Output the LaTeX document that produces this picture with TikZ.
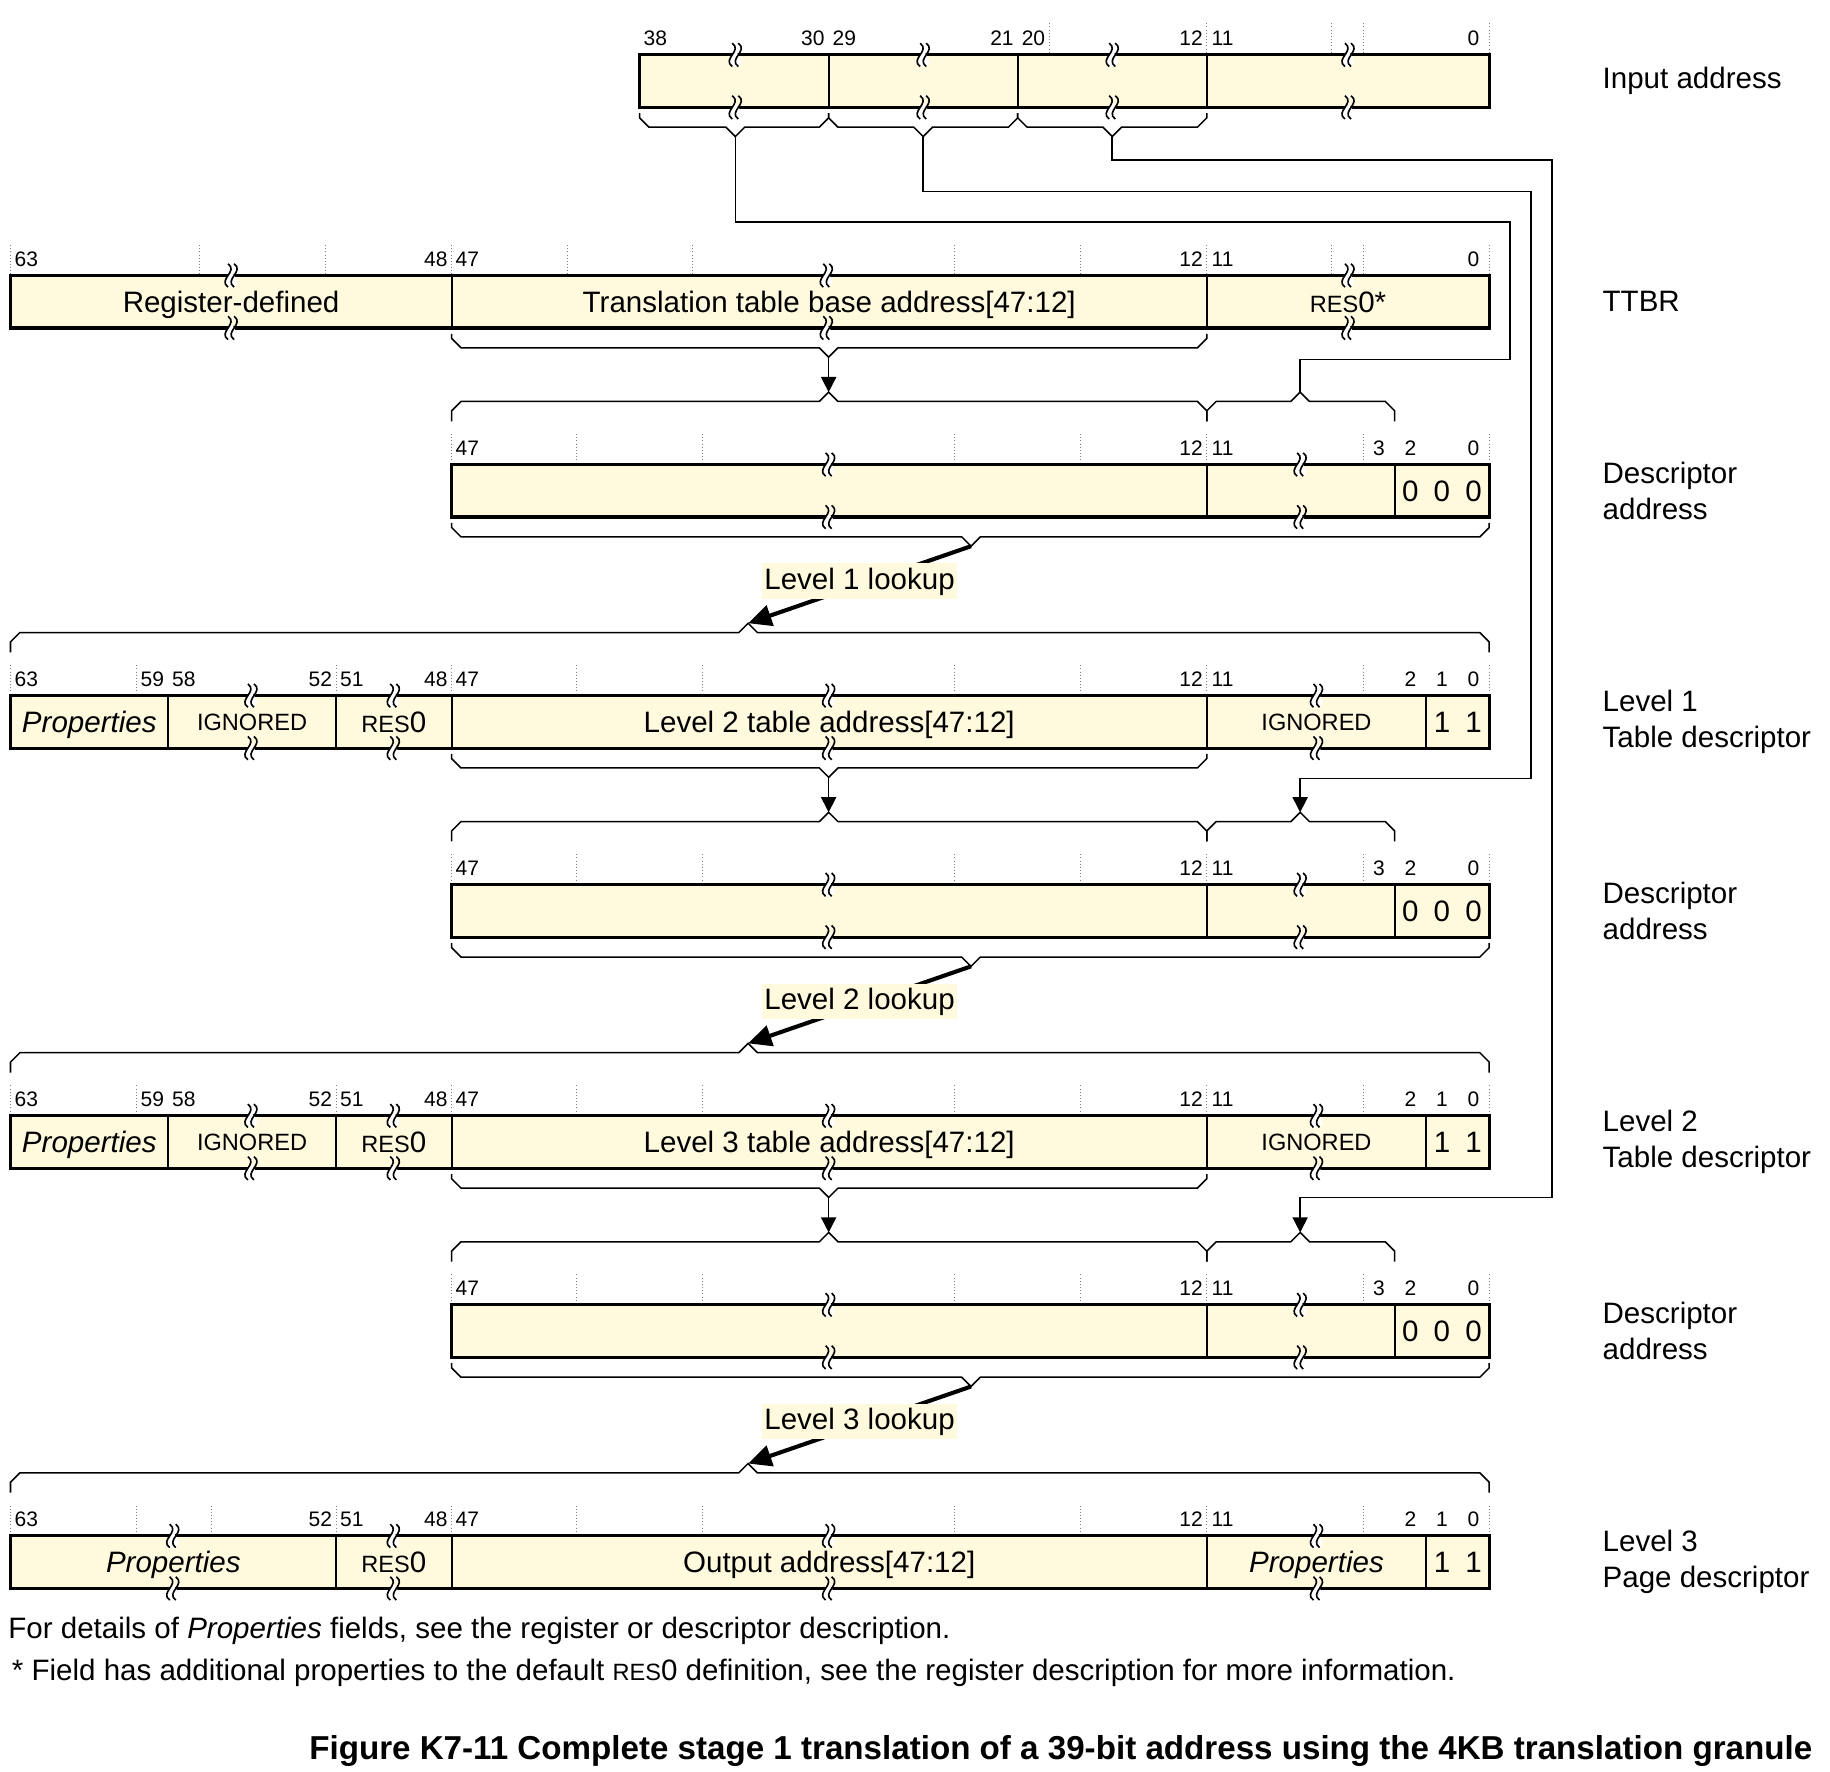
\documentclass[tikz,border=0pt]{standalone}
\usepackage{fontspec}
\setmainfont{Liberation Sans}
\usetikzlibrary{arrows.meta}

\definecolor{cream}{RGB}{255,250,221}

\newcommand{\bigtext}{\fontsize{25.3}{31}\selectfont}
\newcommand{\captext}{\fontsize{20.2}{24}\selectfont}
\newcommand{\bittext}{\fontsize{18}{21}\selectfont}
\newcommand{\resz}{{\captext RES}0}

% one field of a register: name, left x, right x, top y, text
\newcommand{\field}[6][]{%
  \node[field, minimum width={(#4-#3)*1pt}, #1] (#2) at (#3,#5) {#6};}
% bracket under a bar: name, x1, x2, point x, bottom y
\newcommand{\bracedn}[5]{%
  \draw[grp] ({#2},{#5+5}) -- ({#2},{#5+9}) -- ({#2+8},{#5+17}) -- ({#4-8},{#5+17})
    -- ({#4},{#5+25}) -- ({#4+8},{#5+17}) -- ({#3-8},{#5+17}) -- ({#3},{#5+9}) -- ({#3},{#5+5});
  \coordinate (#1) at ({#4},{#5+25});}
% bracket over a bar: name, x1, x2, peak x, top y
\newcommand{\braceup}[5]{%
  \draw[grp] ({#2},{#5-37}) -- ({#2},{#5-46}) -- ({#2+8},{#5-54}) -- ({#4-8},{#5-54})
    -- ({#4},{#5-62}) -- ({#4+8},{#5-54}) -- ({#3-8},{#5-54}) -- ({#3},{#5-46}) -- ({#3},{#5-37});
  \coordinate (#1) at ({#4},{#5-62});}

\tikzset{
  brk/.pic={
    \fill[white] (-2.6,-10) .. controls (6.4,-3.5) and (-11.6,3.5) .. (-2.6,10) -- (2.6,10)
      .. controls (11.6,3.5) and (-6.4,-3.5) .. (2.6,-10) -- cycle;
    \draw[line width=1.4pt] (-2.6,-10) .. controls (6.4,-3.5) and (-11.6,3.5) .. (-2.6,10)
      (2.6,-10) .. controls (11.6,-3.5) and (-6.4,3.5) .. (2.6,10);
  }
}

\begin{document}
\begin{tikzpicture}[
  x=1pt, y=-1pt,
  field/.style={draw, line width=1.5pt, fill=cream, minimum height=45pt, inner sep=0pt,
    outer sep=0pt, anchor=north west, font=\bigtext, text height=18pt, text depth=0pt},
  small/.style={font=\captext, text height=14.4pt},
  bar/.style={line width=2.7pt},
  bitno/.style={font=\bittext, anchor=base, inner sep=0pt},
  bitmark/.style={gray, dotted, line width=0.7pt},
  grp/.style={line width=1.3pt},
  link/.style={line width=1.3pt},
  feed/.style={link, -{Triangle[length=13pt,width=13pt]}},
  lookup/.style={line width=3.5pt, -{Triangle[length=20pt,width=18pt]}},
  lklabel/.style={fill=cream, font=\bigtext, inner xsep=2pt, inner ysep=3.5pt,
    text height=18.5pt, text depth=5pt, yshift=3pt},
  side/.style={anchor=west, align=left, font=\bigtext, inner sep=0pt},
]
\useasboundingbox (0,0) rectangle (1568,1518);

% input address
\bracedn{ia3b}{548}{710}{630}{92}
\bracedn{ia2b}{710}{872}{791}{92}
\bracedn{ia1b}{872}{1034}{953}{92}
\foreach \x in {899,1034,1141,1168,1276}
  \draw[bitmark] (\x,20) -- (\x,47);
\field{ia3}{548}{710}{47}{}
\field{ia2}{710}{872}{47}{}
\field{ia1}{872}{1034}{47}{}
\field{ia0}{1034}{1276}{47}{}
\draw[bar] (ia3.north west) rectangle (ia0.south east);
\foreach \x in {630,791,953,1155} {\pic at (\x,47) {brk}; \pic at (\x,92) {brk};}
\foreach \x/\b in {561.5/38,696.5/30,723.5/29,858.5/21,885.5/20,1020.5/12,1047.5/11,1262.5/0}
  \node[bitno] (ia-\b) at (\x,39) {\b};

% TTBR
\foreach \x in {9,171,279,387,486,593,818,926,1034,1141,1168,1276}
  \draw[bitmark] (\x,210) -- (\x,236);
\field{tb-reg}{9}{387}{236}{Register-defined}
\field{tb-base}{387}{1034}{236}{Translation table base address[47:12]}
\field{tb-res}{1034}{1276}{236}{\resz*}
\draw[bar] (tb-reg.north west) rectangle (tb-res.south east);
\foreach \x in {198,708,1155} {\pic at (\x,236) {brk}; \pic at (\x,281) {brk};}
\foreach \x/\b in {22.5/63,373.5/48,400.5/47,1020.5/12,1047.5/11,1262.5/0}
  \node[bitno] (tb-\b) at (\x,228) {\b};
\bracedn{tbb}{387}{1034}{710}{281}

% descriptor addresses
\foreach \n/\t in {1/398,2/758,3/1118} {
  \braceup{da\n a}{387}{1034}{710}{\t}
  \braceup{da\n c}{1034}{1195}{1114}{\t}
  \foreach \x in {387,494,602,818,926,1034,1168,1276}
    \draw[bitmark] (\x,\t-26) -- (\x,\t);
  \field{da\n-hi}{387}{1034}{\t}{}
  \field{da\n-mid}{1034}{1195}{\t}{}
  \field{da\n-lo}{1195}{1276}{\t}{\makebox[27pt]{0}\makebox[27pt]{0}\makebox[27pt]{0}}
  \draw[bar] (da\n-hi.north west) rectangle (da\n-lo.south east);
  \foreach \x in {710,1114} {\pic at (\x,\t) {brk}; \pic at (\x,\t+45) {brk};}
  \foreach \x/\b in {400.5/47,1020.5/12,1047.5/11,1181.5/3,1208.5/2,1262.5/0}
    \node[bitno] (da\n-\b) at (\x,\t-8) {\b};
  \bracedn{da\n b}{387}{1276}{832}{\t+45}
}

% level 1 and level 2 table descriptors
\foreach \n/\t/\nx in {1/596/2,2/956/3} {
  \braceup{l\n a}{9}{1276}{641}{\t}
  \foreach \x in {9,117,288,387,494,602,818,926,1034,1168,1276}
    \draw[bitmark] (\x,\t-26) -- (\x,\t);
  \field{l\n-prop}{9}{144}{\t}{\textit{Properties}}
  \field[small]{l\n-ign}{144}{288}{\t}{IGNORED}
  \field{l\n-res}{288}{387}{\t}{\resz}
  \field{l\n-addr}{387}{1034}{\t}{Level \nx\ table address[47:12]}
  \field[small]{l\n-ignlo}{1034}{1222}{\t}{IGNORED}
  \field{l\n-type}{1222}{1276}{\t}{\makebox[27pt]{1}\makebox[27pt]{1}}
  \draw[bar] (l\n-prop.north west) rectangle (l\n-type.south east);
  \foreach \x in {215,337,710,1128} {\pic at (\x,\t) {brk}; \pic at (\x,\t+45) {brk};}
  \foreach \x/\b in {22.5/63,130.5/59,157.5/58,274.5/52,301.5/51,373.5/48,400.5/47,
      1020.5/12,1047.5/11,1208.5/2,1235.5/1,1262.5/0}
    \node[bitno] (l\n-\b) at (\x,\t-8) {\b};
  \bracedn{l\n b}{387}{1034}{710}{\t+45}
}

% level 3 page descriptor
\braceup{l3a}{9}{1276}{641}{1316}
\foreach \x in {9,117,181,288,387,494,602,818,926,1034,1168,1276}
  \draw[bitmark] (\x,1290) -- (\x,1316);
\field{l3-prop}{9}{288}{1316}{\textit{Properties}}
\field{l3-res}{288}{387}{1316}{\resz}
\field{l3-out}{387}{1034}{1316}{Output address[47:12]}
\field{l3-proplo}{1034}{1222}{1316}{\textit{Properties}}
\field{l3-type}{1222}{1276}{1316}{\makebox[27pt]{1}\makebox[27pt]{1}}
\draw[bar] (l3-prop.north west) rectangle (l3-type.south east);
\foreach \x in {148,337,710,1128} {\pic at (\x,1316) {brk}; \pic at (\x,1361) {brk};}
\foreach \x/\b in {22.5/63,274.5/52,301.5/51,373.5/48,400.5/47,
    1020.5/12,1047.5/11,1208.5/2,1235.5/1,1262.5/0}
  \node[bitno] (l3-\b) at (\x,1308) {\b};

% index fields to descriptor addresses
\draw[link] (ia3b) |- (1294,190) |- (1114,308) -- (da1c);
\draw[feed] (ia2b) |- (1312,164) |- (1114,667) -- (da2c);
\draw[feed] (ia1b) |- (1330,137) |- (1114,1026) -- (da3c);
\draw[feed] (tbb) -- (da1a);
\draw[feed] (l1b) -- (da2a);
\draw[feed] (l2b) -- (da3a);

% lookups
\draw[lookup] (da1b) -- node[lklabel] (lk1) {Level 1 lookup} (l1a);
\draw[lookup] (da2b) -- node[lklabel] (lk2) {Level 2 lookup} (l2a);
\draw[lookup] (da3b) -- node[lklabel] (lk3) {Level 3 lookup} (l3a);

% row names
\node[side] (lb-ia) at (1373,69) {Input address};
\node[side] (lb-tb) at (1373,258.5) {TTBR};
\node[side] (lb-da1) at (1373,420.5) {Descriptor\\address};
\node[side] (lb-l1) at (1373,618.5) {Level 1\\Table descriptor};
\node[side] (lb-da2) at (1373,780.5) {Descriptor\\address};
\node[side] (lb-l2) at (1373,978.5) {Level 2\\Table descriptor};
\node[side] (lb-da3) at (1373,1140.5) {Descriptor\\address};
\node[side] (lb-l3) at (1373,1338.5) {Level 3\\Page descriptor};

% notes
\node[side] (note1) at (7,1397) {For details of \textit{Properties} fields, see the register or descriptor description.};
\node[side] (note2) at (10,1433) {* Field has additional properties to the default \resz{} definition, see the register description for more information.};
\node[anchor=east, inner sep=0pt, font=\fontsize{28.4}{33}\selectfont\bfseries] (cap) at (1553,1500)
  {Figure K7-11 Complete stage 1 translation of a 39-bit address using the 4KB translation granule};
\end{tikzpicture}
\end{document}
